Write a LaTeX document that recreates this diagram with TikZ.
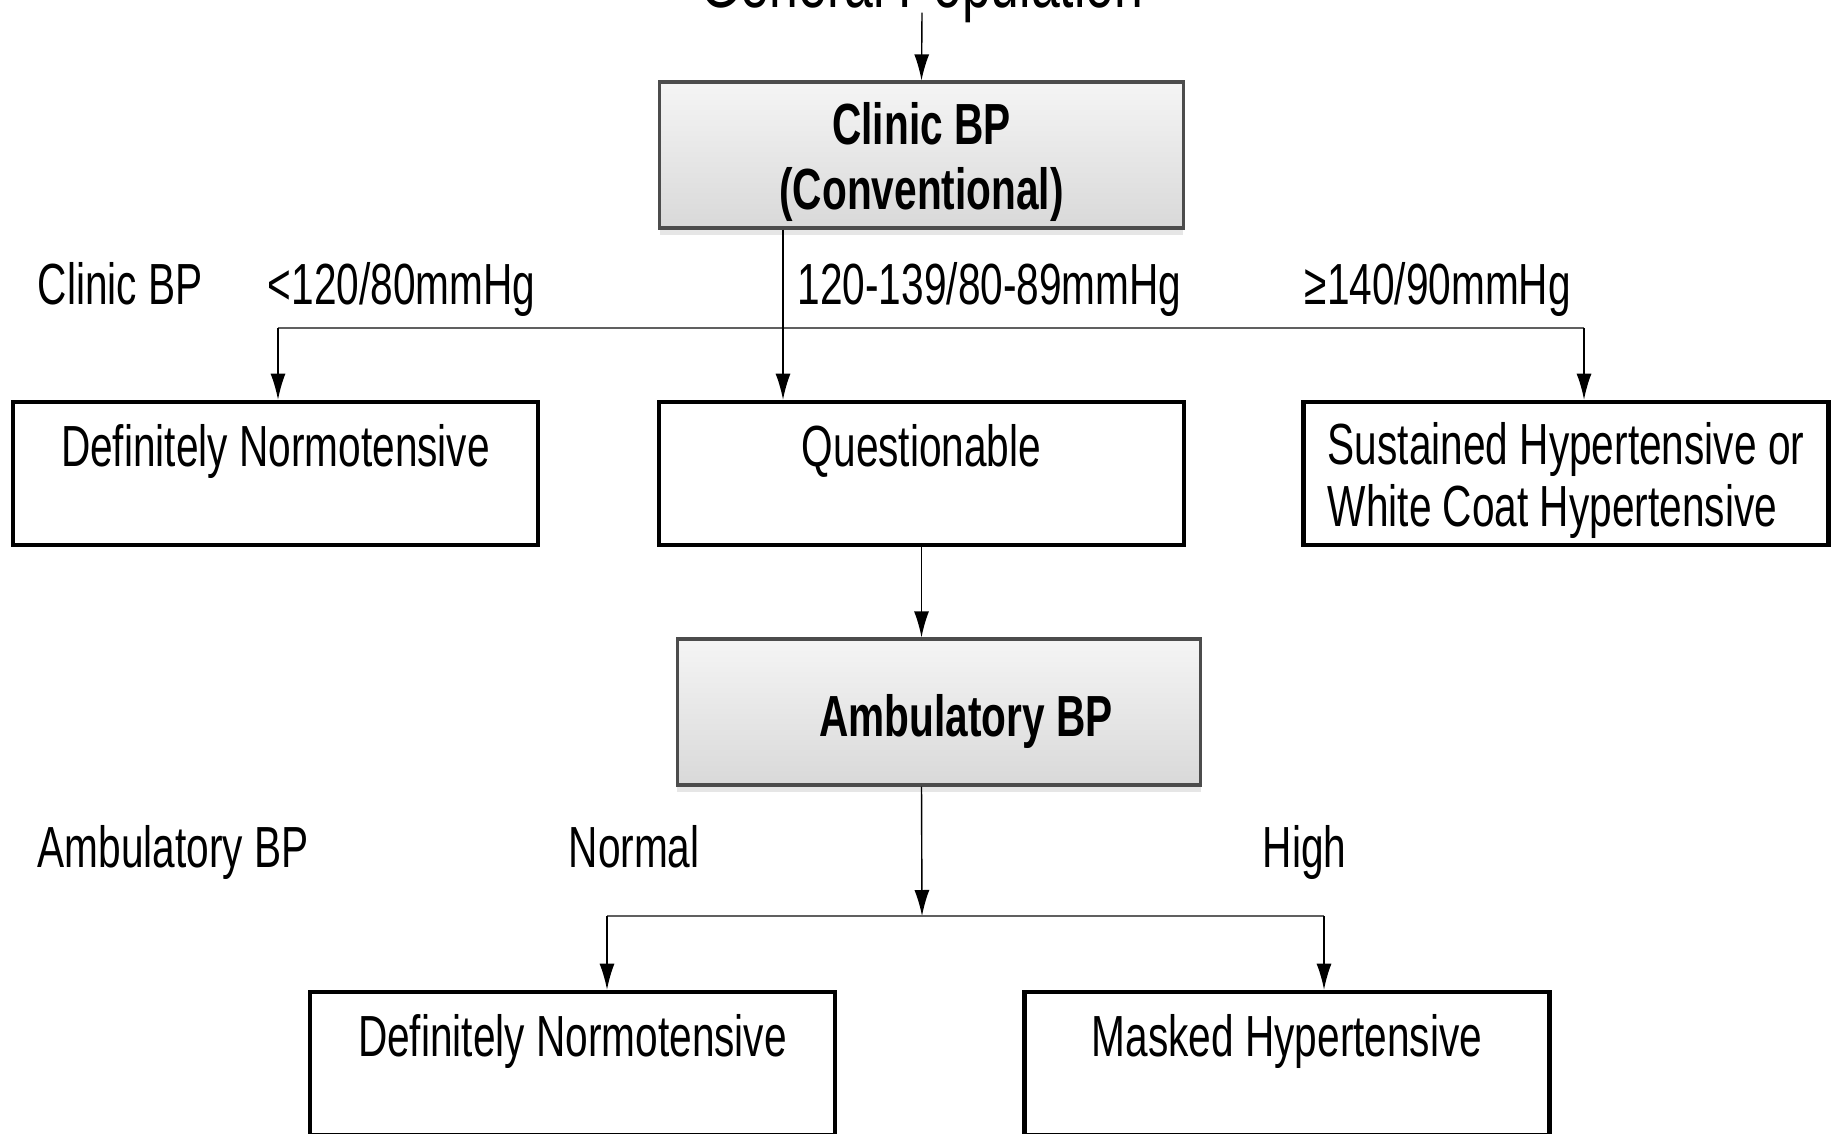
\documentclass[tikz,border=0pt]{standalone}
\usepackage{fontspec}
\setmainfont[FakeStretch=0.70]{Liberation Sans}
\usetikzlibrary{positioning, calc, arrows.meta, shadows}

\begin{document}
\begin{tikzpicture}[x=0.01cm, y=-0.01cm,
	font=\fontsize{16.5}{17.6}\selectfont,
	box/.style={draw, line width=1.3pt, minimum width=5.25cm, minimum height=1.43cm, inner sep=0pt, align=center},
	outcome/.style={box, text height=0.45cm, text depth=0.6cm},
	test/.style={draw=black!70, line width=0.9pt, top color=gray!8, bottom color=gray!30, minimum width=5.23cm, minimum height=1.46cm, inner sep=0pt, align=center, font=\fontsize{16.5}{18.5}\selectfont\bfseries, drop shadow={opacity=0.2, shadow xshift=0pt, shadow yshift=-0.07cm}},
	cut/.style={anchor=base west, inner sep=0pt},
	arr/.style={-{Latex[length=0.26cm, width=0.15cm]}, line width=0.4pt},
	bar/.style={draw=gray!75!black, line width=0.8pt}]
			\useasboundingbox (0,0) rectangle (1837,1133);
			
			\node (gen) at (922, 7) [anchor=base, inner sep=0pt, inner ysep=0.05cm, text depth=0pt, font=\fontsize{21}{22}\selectfont] {General Population};
			\node (clinic) at (921.5, 155) [test] {\rule{0pt}{0.56cm}Clinic BP\\(Conventional)};
			
			\node (cbp) at (37, 304) [cut] {Clinic BP};
			\node (low) at (267, 304) [cut] {<120/80mmHg};
			\node (mid) at (797, 304) [cut] {120-139/80-89mmHg};
			\node (hig) at (1304, 304) [cut] {≥140/90mmHg};
			
			\node (normA) at (275.5, 473.5) [outcome] {Definitely Normotensive};
			\node (quest) at (921.5, 473.5) [outcome] {Questionable};
			\node (sust) at (1566, 473.5) [box, align=left] {\rule{0pt}{0.56cm}Sustained Hypertensive or\\White Coat Hypertensive};
			
			\node (amb) at (939, 712) [test, text height=0.6cm, text depth=0.12cm] {\hspace*{0.54cm}Ambulatory BP};
			
			\node (abp) at (37, 867) [cut] {Ambulatory BP};
			\node (nrm) at (568, 867) [cut] {Normal};
			\node (hi) at (1262, 867) [cut] {High};
			
			\node (normB) at (572.5, 1063.5) [outcome] {Definitely Normotensive};
			\node (mask) at (1287, 1063.5) [outcome] {Masked Hypertensive};
			
			\coordinate (c1) at (783, 328);
			\coordinate (s1L) at (278, 328);
			\coordinate (s1R) at (1584, 328);
			\coordinate (s2) at (922, 916);
			\coordinate (s2L) at (607, 916);
			\coordinate (s2R) at (1324, 916);
			
			\draw[arr] (gen.south) to (clinic.north);
			\draw[bar] (s1L) to (s1R);
			\draw[arr] (c1 |- clinic.south) to (c1 |- quest.north);
			\draw[arr] (s1L) to (s1L |- normA.north);
			\draw[arr] (s1R) to (s1R |- sust.north);
			\draw[arr] (quest.south) to (quest.south |- amb.north);
			\draw[arr] (quest.south |- amb.south) to (s2);
			\draw[bar] (s2L) to (s2R);
			\draw[arr] (s2L) to (s2L |- normB.north);
			\draw[arr] (s2R) to (s2R |- mask.north);
		\end{tikzpicture}
\end{document}
